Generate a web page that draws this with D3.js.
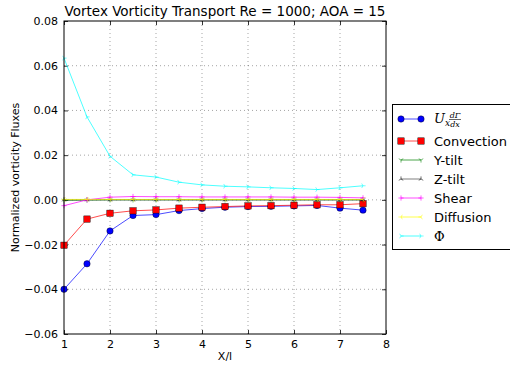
<!DOCTYPE html>
<html>
<head>
<meta charset="utf-8">
<script src="https://d3js.org/d3.v7.min.js"></script>
<style>
  body { margin: 0; background: #fff; }
  svg { display: block; font-family: "DejaVu Sans", sans-serif; }
</style>
</head>
<body>
<svg id="chart" width="510" height="367"></svg>
<script>
// Streamwise stations
const xStations = [1, 1.5, 2, 2.5, 3, 3.5, 4, 4.5, 5, 5.5, 6, 6.5, 7, 7.5];

// Flux terms along the vortex
const uAdvection = [-0.0400, -0.0286, -0.0139, -0.0070, -0.0066, -0.0048, -0.0039, -0.0033, -0.0030, -0.0029, -0.0027, -0.0025, -0.0037, -0.0046];
const convection = [-0.0203, -0.0086, -0.0060, -0.0049, -0.0045, -0.0037, -0.0033, -0.0030, -0.0027, -0.0026, -0.0024, -0.0022, -0.0022, -0.0017];
const yTilt      = [-0.0002, -0.0001, 0.0000, 0.0000, 0.0000, 0.0000, 0.0000, 0.0000, 0.0000, 0.0000, 0.0000, 0.0000, 0.0000, 0.0000];
const zTilt      = [0.0000, 0.0000, 0.0000, 0.0000, 0.0000, 0.0000, 0.0000, 0.0000, 0.0000, 0.0000, 0.0000, 0.0000, 0.0000, 0.0000];
const shear      = [-0.0026, 0.0000, 0.0012, 0.0015, 0.0014, 0.0014, 0.0013, 0.0013, 0.0013, 0.0013, 0.0012, 0.0012, 0.0011, 0.0009];
const diffusion  = [0.0002, 0.0002, 0.0002, 0.0002, 0.0002, 0.0002, 0.0002, 0.0002, 0.0002, 0.0002, 0.0002, 0.0002, 0.0002, 0.0002];
const phi        = [0.0634, 0.0371, 0.0195, 0.0112, 0.0102, 0.0079, 0.0067, 0.0061, 0.0058, 0.0054, 0.0051, 0.0046, 0.0054, 0.0063];

const xTicks = [1, 2, 3, 4, 5, 6, 7, 8];
const yTicks = [-0.06, -0.04, -0.02, 0.00, 0.02, 0.04, 0.06, 0.08];

const series = [
  { name: "U", values: uAdvection, color: "#0000ff", marker: "circle" },
  { name: "Convection", values: convection, color: "#ff0000", marker: "square" },
  { name: "Y-tilt", values: yTilt, color: "#008000", marker: "tri_down" },
  { name: "Z-tilt", values: zTilt, color: "#000000", marker: "tri_up" },
  { name: "Shear", values: shear, color: "#ff00ff", marker: "plus" },
  { name: "Diffusion", values: diffusion, color: "#ffff00", marker: "tri_left" },
  { name: "\u03A6", values: phi, color: "#00ffff", marker: "tri_right" }
];

const svg = d3.select("#chart");
const m = { left: 64, right: 386, top: 21, bottom: 334 };

const x = d3.scaleLinear().domain([1, 8]).range([m.left, m.right]);
const y = d3.scaleLinear().domain([-0.06, 0.08]).range([m.bottom, m.top]);

const fmt = v => {
  const s = Math.abs(v).toFixed(2);
  return (v < -1e-9 ? "\u2212" : "") + s;
};

// grid
const grid = svg.append("g");
xTicks.forEach(t => {
  if (t === 1 || t === 8) return;
  grid.append("line").attr("x1", x(t)).attr("x2", x(t)).attr("y1", m.top).attr("y2", m.bottom)
    .attr("stroke", "#000").attr("stroke-opacity", 0.45).attr("stroke-width", 0.8).attr("stroke-dasharray", "1,3");
});
yTicks.forEach(t => {
  if (Math.abs(t - 0.08) < 1e-9 || Math.abs(t + 0.06) < 1e-9) return;
  grid.append("line").attr("x1", m.left).attr("x2", m.right).attr("y1", y(t)).attr("y2", y(t))
    .attr("stroke", "#000").attr("stroke-opacity", 0.45).attr("stroke-width", 0.8).attr("stroke-dasharray", "1,3");
});

// axes (ticks point inward, on all four sides)
const bottomAxis = d3.axisBottom(x).tickValues(xTicks).tickFormat(d3.format("d")).tickSizeInner(-4).tickSizeOuter(0).tickPadding(6);
const topAxis = d3.axisTop(x).tickValues(xTicks).tickFormat("").tickSizeInner(-4).tickSizeOuter(0);
const leftAxis = d3.axisLeft(y).tickValues(yTicks).tickFormat(fmt).tickSizeInner(-4).tickSizeOuter(0).tickPadding(6);
const rightAxis = d3.axisRight(y).tickValues(yTicks).tickFormat("").tickSizeInner(-4).tickSizeOuter(0);

function styleAxis(g) {
  g.select(".domain").remove();
  g.selectAll("line").attr("stroke", "#000").attr("stroke-width", 0.8);
  g.selectAll("text").attr("font-size", 11).attr("fill", "#000").attr("font-family", "DejaVu Sans, sans-serif");
}
svg.append("g").attr("transform", `translate(0,${m.bottom})`).call(bottomAxis).call(styleAxis);
svg.append("g").attr("transform", `translate(0,${m.top})`).call(topAxis).call(styleAxis);
svg.append("g").attr("transform", `translate(${m.left},0)`).call(leftAxis).call(styleAxis);
svg.append("g").attr("transform", `translate(${m.right},0)`).call(rightAxis).call(styleAxis);

// markers
function drawMarker(g, kind, cx, cy, color) {
  const s = 2.6;
  if (kind === "circle") {
    g.append("circle").attr("cx", cx).attr("cy", cy).attr("r", 3.2).attr("fill", color).attr("stroke", "#000").attr("stroke-width", 0.4);
  } else if (kind === "square") {
    g.append("rect").attr("x", cx - 3.2).attr("y", cy - 3.2).attr("width", 6.4).attr("height", 6.4).attr("fill", color).attr("stroke", "#000").attr("stroke-width", 0.4);
  } else if (kind === "plus") {
    g.append("path").attr("d", `M${cx - s},${cy}H${cx + s}M${cx},${cy - s}V${cy + s}`).attr("stroke", color).attr("stroke-width", 0.8).attr("stroke-opacity", 0.8);
  } else {
    const ang = { tri_down: 90, tri_up: -90, tri_left: 180, tri_right: 0 }[kind];
    let d = "";
    [0, 120, 240].forEach(a => {
      const r = (ang + a) * Math.PI / 180;
      d += `M${cx},${cy}L${cx + s * Math.cos(r)},${cy + s * Math.sin(r)}`;
    });
    g.append("path").attr("d", d).attr("stroke", color).attr("stroke-width", 0.8).attr("stroke-opacity", 0.7).attr("fill", "none");
  }
}

const line = d3.line().x((d, i) => x(xStations[i])).y(d => y(d));
const plot = svg.append("g");
// series are stacked in order: U at the back, Φ on top
series.forEach(s => {
  const g = plot.append("g");
  g.append("path").datum(s.values).attr("d", line).attr("fill", "none")
    .attr("stroke", s.color).attr("stroke-width", 1).attr("stroke-opacity", s.name === "Z-tilt" ? 0.5 : 0.7);
  s.values.forEach((v, i) => drawMarker(g, s.marker, x(xStations[i]), y(v), s.color));
});

// frame
svg.append("rect").attr("x", m.left).attr("y", m.top).attr("width", m.right - m.left).attr("height", m.bottom - m.top)
  .attr("fill", "none").attr("stroke", "#000").attr("stroke-width", 1);

// title and axis labels
svg.append("text").attr("x", (m.left + m.right) / 2).attr("y", 16).attr("text-anchor", "middle")
  .attr("font-size", 13.5).text("Vortex Vorticity Transport Re = 1000; AOA = 15");
svg.append("text").attr("x", (m.left + m.right) / 2).attr("y", 360).attr("text-anchor", "middle")
  .attr("font-size", 11).text("X/l");
svg.append("text").attr("transform", `translate(19,${(m.top + m.bottom) / 2}) rotate(-90)`).attr("text-anchor", "middle")
  .attr("font-size", 11).text("Normalized vorticity Fluxes");

// legend
const lg = svg.append("g");
lg.append("rect").attr("x", 392.5).attr("y", 104.5).attr("width", 130).attr("height", 145)
  .attr("fill", "#fff").attr("stroke", "#000").attr("stroke-width", 1);
const rowY = [119, 141, 160, 179, 198, 217, 236];
series.forEach((s, i) => {
  const yy = rowY[i];
  lg.append("line").attr("x1", 401).attr("x2", 421).attr("y1", yy).attr("y2", yy)
    .attr("stroke", s.color).attr("stroke-width", 1).attr("stroke-opacity", s.name === "Z-tilt" ? 0.5 : 0.7);
  drawMarker(lg, s.marker, 401, yy, s.color);
  drawMarker(lg, s.marker, 421, yy, s.color);
  if (s.name === "U") {
    const t = lg.append("text").attr("x", 434).attr("y", yy + 4).attr("font-family", "DejaVu Serif, serif").attr("font-size", 13);
    t.append("tspan").attr("font-style", "italic").text("U");
    t.append("tspan").attr("font-style", "italic").attr("font-size", 9).attr("dy", 3).text("x");
    // fraction dΓ / dx
    const fx = 455;
    lg.append("text").attr("x", fx).attr("y", yy - 1.5).attr("font-family", "DejaVu Serif, serif").attr("font-style", "italic")
      .attr("font-size", 8).attr("text-anchor", "middle").text("d\u0393");
    lg.append("line").attr("x1", fx - 6).attr("x2", fx + 6).attr("y1", yy + 0.5).attr("y2", yy + 0.5).attr("stroke", "#000").attr("stroke-width", 0.6);
    lg.append("text").attr("x", fx).attr("y", yy + 8).attr("font-family", "DejaVu Serif, serif").attr("font-style", "italic")
      .attr("font-size", 8).attr("text-anchor", "middle").text("dx");
  } else {
    lg.append("text").attr("x", 434).attr("y", yy + 4.5).attr("font-size", 13)
      .attr("font-family", s.name === "\u03A6" ? "DejaVu Serif, serif" : "DejaVu Sans, sans-serif").text(s.name);
  }
});
</script>
</body>
</html>
